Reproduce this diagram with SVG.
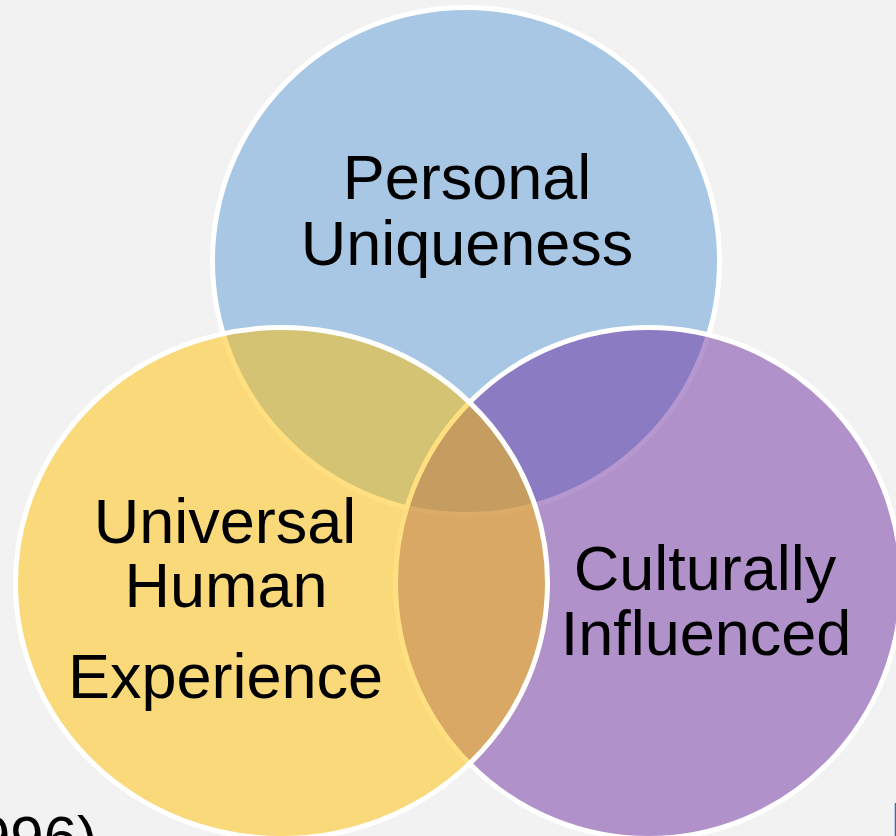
<svg xmlns="http://www.w3.org/2000/svg" width="896" height="836" viewBox="0 0 896 836">
<defs>
<style>
.c{stroke:#ffffff;stroke-width:5;fill-opacity:0.5}
.t{font-family:"Liberation Sans",Arial,sans-serif;font-size:63px;fill:#000000;text-anchor:middle}
</style>
</defs>
<rect x="0" y="0" width="896" height="836" fill="#f2f2f2"/>
<g id="personal-uniqueness">
<circle class="c" cx="466" cy="261" r="253.5" fill="#5b9bd5"/>
</g>
<g id="culturally-influenced">
<ellipse class="c" cx="648.5" cy="583" rx="253" ry="255.5" fill="#7030a0"/>
</g>
<g id="universal-human-experience">
<ellipse class="c" cx="281.5" cy="583" rx="266" ry="255.5" fill="#ffc000"/>
</g>
<g id="labels">
<text class="t" x="467" y="199">Personal</text>
<text class="t" x="467" y="265">Uniqueness</text>
<text class="t" x="225" y="543">Universal</text>
<text class="t" x="226" y="607">Human</text>
<text class="t" x="225.5" y="698">Experience</text>
<text class="t" x="705" y="590">Culturally</text>
<text class="t" x="706" y="655">Influenced</text>
</g>
<g id="connectors"></g>
<text x="-23" y="858" font-family="'Liberation Sans',Arial,sans-serif" font-size="60" fill="#000000">996)</text>
<rect x="894.7" y="803" width="1.3" height="33" fill="#2e75b6"/>
</svg>
